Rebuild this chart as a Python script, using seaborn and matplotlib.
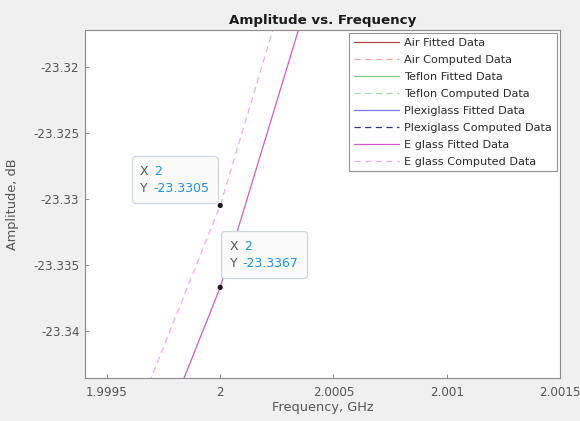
import matplotlib
matplotlib.use("Agg")
import matplotlib.pyplot as plt
import seaborn as sns
import pandas as pd
from matplotlib.offsetbox import TextArea, HPacker, VPacker, AnnotationBbox

sns.set_theme(style="white")
plt.rcParams['font.family'] = ['DejaVu Sans']

# ---- data ----
freq_ghz = [1.9995, 2.0, 2.0005]
air_fitted = [-23.2250, -23.2000, -23.1720]
air_computed = [-23.2190, -23.1940, -23.1660]
teflon_fitted = [-23.2650, -23.2400, -23.2120]
teflon_computed = [-23.2600, -23.2350, -23.2070]
plexi_fitted = [-23.3010, -23.2790, -23.2510]
plexi_computed = [-23.2960, -23.2740, -23.2460]
eglass_fitted = [-23.3582, -23.3367, -23.3085]
eglass_computed = [-23.3519, -23.3305, -23.3019]

series_labels = ["Air Fitted Data", "Air Computed Data",
                 "Teflon Fitted Data", "Teflon Computed Data",
                 "Plexiglass Fitted Data", "Plexiglass Computed Data",
                 "E glass Fitted Data", "E glass Computed Data"]
series_values = [air_fitted, air_computed, teflon_fitted, teflon_computed,
                 plexi_fitted, plexi_computed, eglass_fitted, eglass_computed]

tip_x = [2.0, 2.0]
tip_y = [-23.3305, -23.3367]

x_ticks = [1.9995, 2.0, 2.0005, 2.001, 2.0015]
x_tick_labels = ["1.9995", "2", "2.0005", "2.001", "2.0015"]
y_ticks = [-23.34, -23.335, -23.33, -23.325, -23.32]
y_tick_labels = ["-23.34", "-23.335", "-23.33", "-23.325", "-23.32"]

# ---- styles ----
colors = ["#b04848", "#f2a8a8", "#88c888", "#a8d8a8",
          "#7878e8", "#34348c", "#cc5ccc", "#f4aaf4"]
styles = ["-", "--", "-", "--", "-", "--", "-", "--"]

fig = plt.figure(figsize=(5.8, 4.21), dpi=100, facecolor="#f0f0f0")
ax = fig.add_axes([85/580, 1-378/421, (560-85)/580, (378-30)/421])
ax.set_facecolor("white")

for lab, vals, c, ls in zip(series_labels, series_values, colors, styles):
    df = pd.DataFrame({"freq": freq_ghz, "amp": vals})
    sns.lineplot(data=df, x="freq", y="amp", ax=ax, color=c,
                 linewidth=0.9, label=lab, sort=False)
    ln = ax.get_lines()[-1]
    if ls == "--":
        ln.set_dashes((5, 3.5))

sns.scatterplot(x=tip_x, y=tip_y, ax=ax, color="#1a1a1a", s=14,
                edgecolor="none", zorder=8, legend=False)

ax.set_xlim(1.999403, 2.0015)
ax.set_ylim(-23.34356, -23.31722)
ax.set_xticks(x_ticks)
ax.set_xticklabels(x_tick_labels)
ax.set_yticks(y_ticks)
ax.set_yticklabels(y_tick_labels)

tick_col = "#555555"
ax.tick_params(direction="in", length=3, width=0.6, colors="#7a7a7a",
               labelcolor=tick_col, labelsize=8.6, top=False, right=False,
               left=True, bottom=True, pad=4)
ax.tick_params(axis="x", pad=6)
for s in ax.spines.values():
    s.set_color("#8a8a8a")
    s.set_linewidth(0.8)

ax.set_xlabel("Frequency, GHz", fontsize=9.3, color=tick_col, labelpad=1)
ax.set_ylabel("Amplitude, dB", fontsize=9.3, color=tick_col, labelpad=10)
ax.set_title("Amplitude vs. Frequency", fontsize=9.6, fontweight="bold",
             color="#1a1a1a", pad=4)

leg = ax.legend(loc="upper right", fontsize=8.1, frameon=True, fancybox=False,
                edgecolor="#7a7a7a", handlelength=4.0, handletextpad=0.5,
                labelspacing=0.62, borderpad=0.4, borderaxespad=0.3)
leg.get_frame().set_linewidth(0.8)
for t in leg.get_texts():
    t.set_color("#2a2a2a")

# ---- data tips ----
def datatip(xv, yv, align, offset):
    lab_col = "#555555"
    val_col = "#1e90e6"
    fs = 9.0
    rowx = HPacker(children=[TextArea("X", textprops=dict(color=lab_col, size=fs)),
                             TextArea(f"{xv:g}", textprops=dict(color=val_col, size=fs))],
                   pad=0, sep=4)
    rowy = HPacker(children=[TextArea("Y", textprops=dict(color=lab_col, size=fs)),
                             TextArea(f"{yv:.4f}", textprops=dict(color=val_col, size=fs))],
                   pad=0, sep=4)
    box = VPacker(children=[rowx, rowy], pad=0, sep=3, align="left")
    ab = AnnotationBbox(box, (xv, yv), xybox=offset, xycoords="data",
                        boxcoords="offset points", box_alignment=align,
                        frameon=True, pad=0,
                        bboxprops=dict(boxstyle="round,pad=0.55,rounding_size=0.25",
                                       facecolor="#fbfbfb", edgecolor="#cfd6dc",
                                       linewidth=0.9))
    ab.set_zorder(7)
    ax.add_artist(ab)

datatip(tip_x[0], tip_y[0], (1, 0), (-8, 7.6))
datatip(tip_x[1], tip_y[1], (0, 0), (6.8, 12.5))

fig.savefig("out.png", dpi=100, facecolor=fig.get_facecolor())
